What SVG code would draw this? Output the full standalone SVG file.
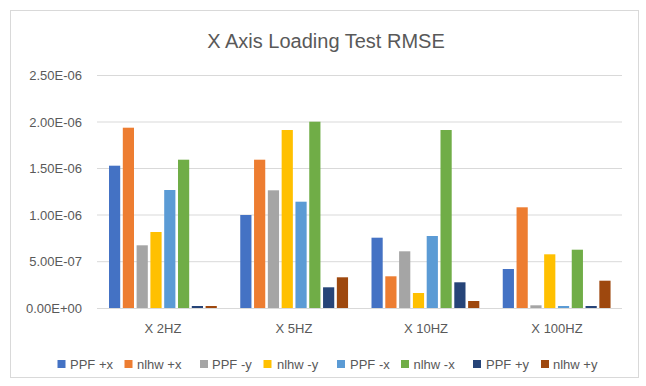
<svg xmlns="http://www.w3.org/2000/svg" width="646" height="386" viewBox="0 0 646 386">
<style>
text{font-family:"Liberation Sans",Arial,sans-serif;fill:#595959}
.title{font-size:20px}
.tick{font-size:13px;text-anchor:end}
.cat{font-size:13px;text-anchor:middle}
.leg{font-size:13px}
.grid{stroke:#D9D9D9;stroke-width:1}
.c1{fill:#4472C4}.c2{fill:#ED7D31}.c3{fill:#A5A5A5}.c4{fill:#FFC000}
.c5{fill:#5B9BD5}.c6{fill:#70AD47}.c7{fill:#264478}.c8{fill:#9E480E}
</style>
<rect x="0" y="0" width="646" height="386" fill="#ffffff"/>
<rect id="chart-border" x="10.5" y="10.5" width="628" height="367" fill="#ffffff" stroke="#D9D9D9" stroke-width="1"/>
<text id="title" class="title" x="326" y="48" text-anchor="middle">X Axis Loading Test RMSE</text>
<g id="gridlines">
<line class="grid" x1="97" y1="75.5" x2="622" y2="75.5"/>
<line class="grid" x1="97" y1="122" x2="622" y2="122"/>
<line class="grid" x1="97" y1="168.5" x2="622" y2="168.5"/>
<line class="grid" x1="97" y1="215" x2="622" y2="215"/>
<line class="grid" x1="97" y1="261.7" x2="622" y2="261.7"/>
<line class="grid" x1="97" y1="308.5" x2="622" y2="308.5"/>
</g>
<g id="y-axis-labels">
<text class="tick" x="82" y="80">2.50E-06</text>
<text class="tick" x="82" y="126.5">2.00E-06</text>
<text class="tick" x="82" y="173">1.50E-06</text>
<text class="tick" x="82" y="219.5">1.00E-06</text>
<text class="tick" x="82" y="266">5.00E-07</text>
<text class="tick" x="82" y="313">0.00E+00</text>
</g>
<g id="group-2hz">
<rect class="c1" x="109" y="165.7" width="11.2" height="142.3"/>
<rect class="c2" x="122.8" y="127.7" width="11.2" height="180.3"/>
<rect class="c3" x="136.6" y="245.3" width="11.2" height="62.7"/>
<rect class="c4" x="150.4" y="232" width="11.2" height="76"/>
<rect class="c5" x="164.2" y="190" width="11.2" height="118"/>
<rect class="c6" x="178" y="159.7" width="11.2" height="148.3"/>
<rect class="c7" x="191.8" y="306" width="11.2" height="2"/>
<rect class="c8" x="205.6" y="306" width="11.2" height="2"/>
</g>
<g id="group-5hz">
<rect class="c1" x="240.25" y="215" width="11.2" height="93"/>
<rect class="c2" x="254.05" y="159.7" width="11.2" height="148.3"/>
<rect class="c3" x="267.85" y="190.3" width="11.2" height="117.7"/>
<rect class="c4" x="281.65" y="130" width="11.2" height="178"/>
<rect class="c5" x="295.45" y="201.7" width="11.2" height="106.3"/>
<rect class="c6" x="309.25" y="121.7" width="11.2" height="186.3"/>
<rect class="c7" x="323.05" y="287.3" width="11.2" height="20.7"/>
<rect class="c8" x="336.85" y="277.3" width="11.2" height="30.7"/>
</g>
<g id="group-10hz">
<rect class="c1" x="371.5" y="237.7" width="11.2" height="70.3"/>
<rect class="c2" x="385.3" y="276.3" width="11.2" height="31.7"/>
<rect class="c3" x="399.1" y="251.3" width="11.2" height="56.7"/>
<rect class="c4" x="412.9" y="293" width="11.2" height="15"/>
<rect class="c5" x="426.7" y="236" width="11.2" height="72"/>
<rect class="c6" x="440.5" y="130" width="11.2" height="178"/>
<rect class="c7" x="454.3" y="282.3" width="11.2" height="25.7"/>
<rect class="c8" x="468.1" y="301" width="11.2" height="7"/>
</g>
<g id="group-100hz">
<rect class="c1" x="502.75" y="269" width="11.2" height="39"/>
<rect class="c2" x="516.55" y="207.3" width="11.2" height="100.7"/>
<rect class="c3" x="530.35" y="305.3" width="11.2" height="2.7"/>
<rect class="c4" x="544.15" y="254.3" width="11.2" height="53.7"/>
<rect class="c5" x="557.95" y="306" width="11.2" height="2"/>
<rect class="c6" x="571.75" y="249.7" width="11.2" height="58.3"/>
<rect class="c7" x="585.55" y="306" width="11.2" height="2"/>
<rect class="c8" x="599.35" y="280.7" width="11.2" height="27.3"/>
</g>
<g id="x-axis-labels">
<text class="cat" x="163" y="333">X 2HZ</text>
<text class="cat" x="294" y="333">X 5HZ</text>
<text class="cat" x="426" y="333">X 10HZ</text>
<text class="cat" x="557" y="333">X 100HZ</text>
</g>
<g id="legend">
<rect class="c1" x="57.5" y="360" width="8" height="8"/><text class="leg" x="70" y="368.5">PPF +x</text>
<rect class="c2" x="124.5" y="360" width="8" height="8"/><text class="leg" x="137" y="368.5">nlhw +x</text>
<rect class="c3" x="200" y="360" width="8" height="8"/><text class="leg" x="212" y="368.5">PPF -y</text>
<rect class="c4" x="263.5" y="360" width="8" height="8"/><text class="leg" x="277" y="368.5">nlhw -y</text>
<rect class="c5" x="337" y="360" width="8" height="8"/><text class="leg" x="350" y="368.5">PPF -x</text>
<rect class="c6" x="401" y="360" width="8" height="8"/><text class="leg" x="413.5" y="368.5">nlhw -x</text>
<rect class="c7" x="473" y="360" width="8" height="8"/><text class="leg" x="486" y="368.5">PPF +y</text>
<rect class="c8" x="541" y="360" width="8" height="8"/><text class="leg" x="553" y="368.5">nlhw +y</text>
</g>
</svg>
